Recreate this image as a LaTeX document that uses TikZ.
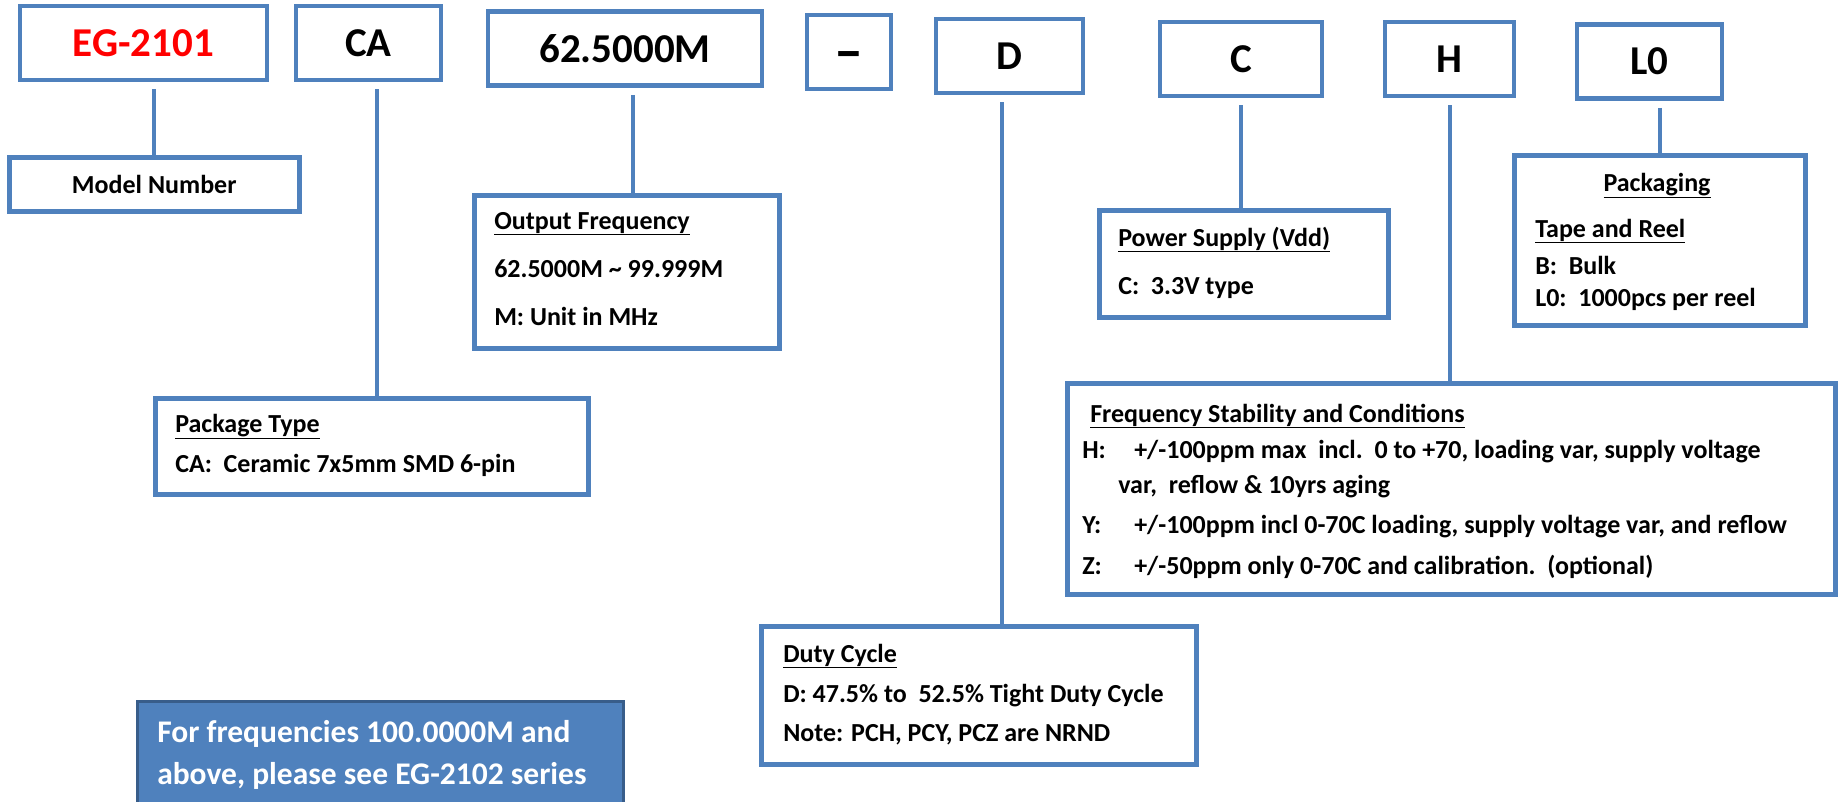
\documentclass[tikz,border=0pt]{standalone}
\usepackage{fontspec}
\setmainfont{Carlito}
\usetikzlibrary{positioning}
\definecolor{boxblue}{HTML}{4F81BD}
\definecolor{noteedge}{HTML}{385D8A}
\definecolor{codered}{HTML}{FF0000}

\begin{document}
\begin{tikzpicture}[x=1pt, y=-1pt, line width=4.5pt,
  codebox/.style={draw=boxblue, minimum width=#1, minimum height=74pt, inner sep=0pt,
    font=\fontsize{41}{48}\selectfont\bfseries},
  descbox/.style={draw=boxblue, anchor=north west, inner sep=0pt},
  txt/.style={anchor=base west, inner sep=0pt, font=\fontsize{26}{31}\selectfont\bfseries},
  link/.style={draw=boxblue, line width=4pt, shorten <=7pt}]

\useasboundingbox (0,0) rectangle (1839,801);

% part number fields
\node[codebox=247pt, text=codered] (eg) at (143.5,43) {EG-2101};
\node[codebox=145pt] (ca) at (368.5,43) {CA};
\node[codebox=274pt] (freq) at (625,48.5) {62.5000M};
\node[codebox=84pt, font=\fontsize{58}{60}\selectfont\bfseries] (dash) at (849,52) {\vphantom{D}\textendash};
\node[codebox=147pt] (d) at (1009.5,56) {D};
\node[codebox=162pt] (c) at (1241,59) {C};
\node[codebox=129pt] (h) at (1449.5,59) {H};
\node[codebox=145pt] (l0) at (1649.5,61.5) {L0};

% description boxes
\node[descbox, minimum width=290pt, minimum height=54pt,
  font=\fontsize{26}{31}\selectfont\bfseries] (mnum) at (7,155) {Model Number};
\node[descbox, minimum width=305pt, minimum height=153pt] (out) at (472,193) {};
\node[descbox, minimum width=433pt, minimum height=96pt] (pkg) at (153,396) {};
\node[descbox, minimum width=435pt, minimum height=138pt] (duty) at (759,624) {};
\node[descbox, minimum width=289pt, minimum height=107pt] (pwr) at (1097,208) {};
\node[descbox, minimum width=291pt, minimum height=170pt] (pack) at (1512,153) {};
\node[descbox, minimum width=768pt, minimum height=211pt] (stab) at (1065,381) {};
\node[descbox, minimum width=486pt, minimum height=112pt, fill=boxblue, draw=noteedge,
  line width=3pt] (note) at (136,700) {};

% connectors
\draw[link] (eg.south -| mnum.north) -- (mnum.north);
\draw[link] ([xshift=8pt]ca.south) -- ([xshift=8pt]ca.south |- pkg.north);
\draw[link] ([xshift=8pt]freq.south) -- ([xshift=8pt]freq.south |- out.north);
\draw[link] ([xshift=-8pt]d.south) -- ([xshift=-8pt]d.south |- duty.north);
\draw[link] (c.south) -- (c.south |- pwr.north);
\draw[link] (h.south) -- (h.south |- stab.north);
\draw[link] (l0.south -| pack.north) -- (pack.north);

% texts
\node[txt] (outhead) at (492,229) {\underline{Output Frequency}};
\node[txt] (outrange) at (492,277) {62.5000M \textasciitilde\ 99.999M};
\node[txt] (outunit) at (492,325) {M: Unit in MHz};

\node[txt] (pkghead) at (173,432) {\underline{Package Type}};
\node[txt] (pkgca) at (173,472) {CA:\ \ Ceramic 7x5mm SMD 6-pin};

\node[txt] (pwrhead) at (1116,246) {\underline{Power Supply (Vdd)}};
\node[txt] (pwrc) at (1116,294) {C:\ \ 3.3V type};

\node[txt, anchor=base] (packhead) at (1657,191) {\underline{Packaging}};
\node[txt] (packtape) at (1533,237) {\underline{Tape and Reel}};
\node[txt] (packb) at (1533,274) {B:\ \ Bulk};
\node[txt] (packl0) at (1533,306) {L0:\ \ 1000pcs per reel};

\node[txt] (stabhead) at (1088,422) {\underline{Frequency Stability and Conditions}};
\node[txt] (stabh) at (1080,458) {\makebox[52pt][l]{H:}+/-100ppm max\ \ incl.\ \ 0 to +70, loading var, supply voltage};
\node[txt] (stabvar) at (1116,493) {var,\ \ reflow \& 10yrs aging};
\node[txt] (staby) at (1080,533) {\makebox[52pt][l]{Y:}+/-100ppm incl 0-70C loading, supply voltage var, and reflow};
\node[txt] (stabz) at (1080,574) {\makebox[52pt][l]{Z:}+/-50ppm only 0-70C and calibration.\ \ (optional)};

\node[txt] (dutyhead) at (781,662) {\underline{Duty Cycle}};
\node[txt] (dutyd) at (781,702) {D: 47.5\% to\ \ 52.5\% Tight Duty Cycle};
\node[txt] (dutynote) at (781,741) {Note: PCH, PCY, PCZ are NRND};

\node[txt, text=white, font=\fontsize{31.5}{37}\selectfont\bfseries] (noteone) at (155,742) {For frequencies 100.0000M and};
\node[txt, text=white, font=\fontsize{31.5}{37}\selectfont\bfseries] (notetwo) at (155,784) {above, please see EG-2102 series};

\end{tikzpicture}
\end{document}
